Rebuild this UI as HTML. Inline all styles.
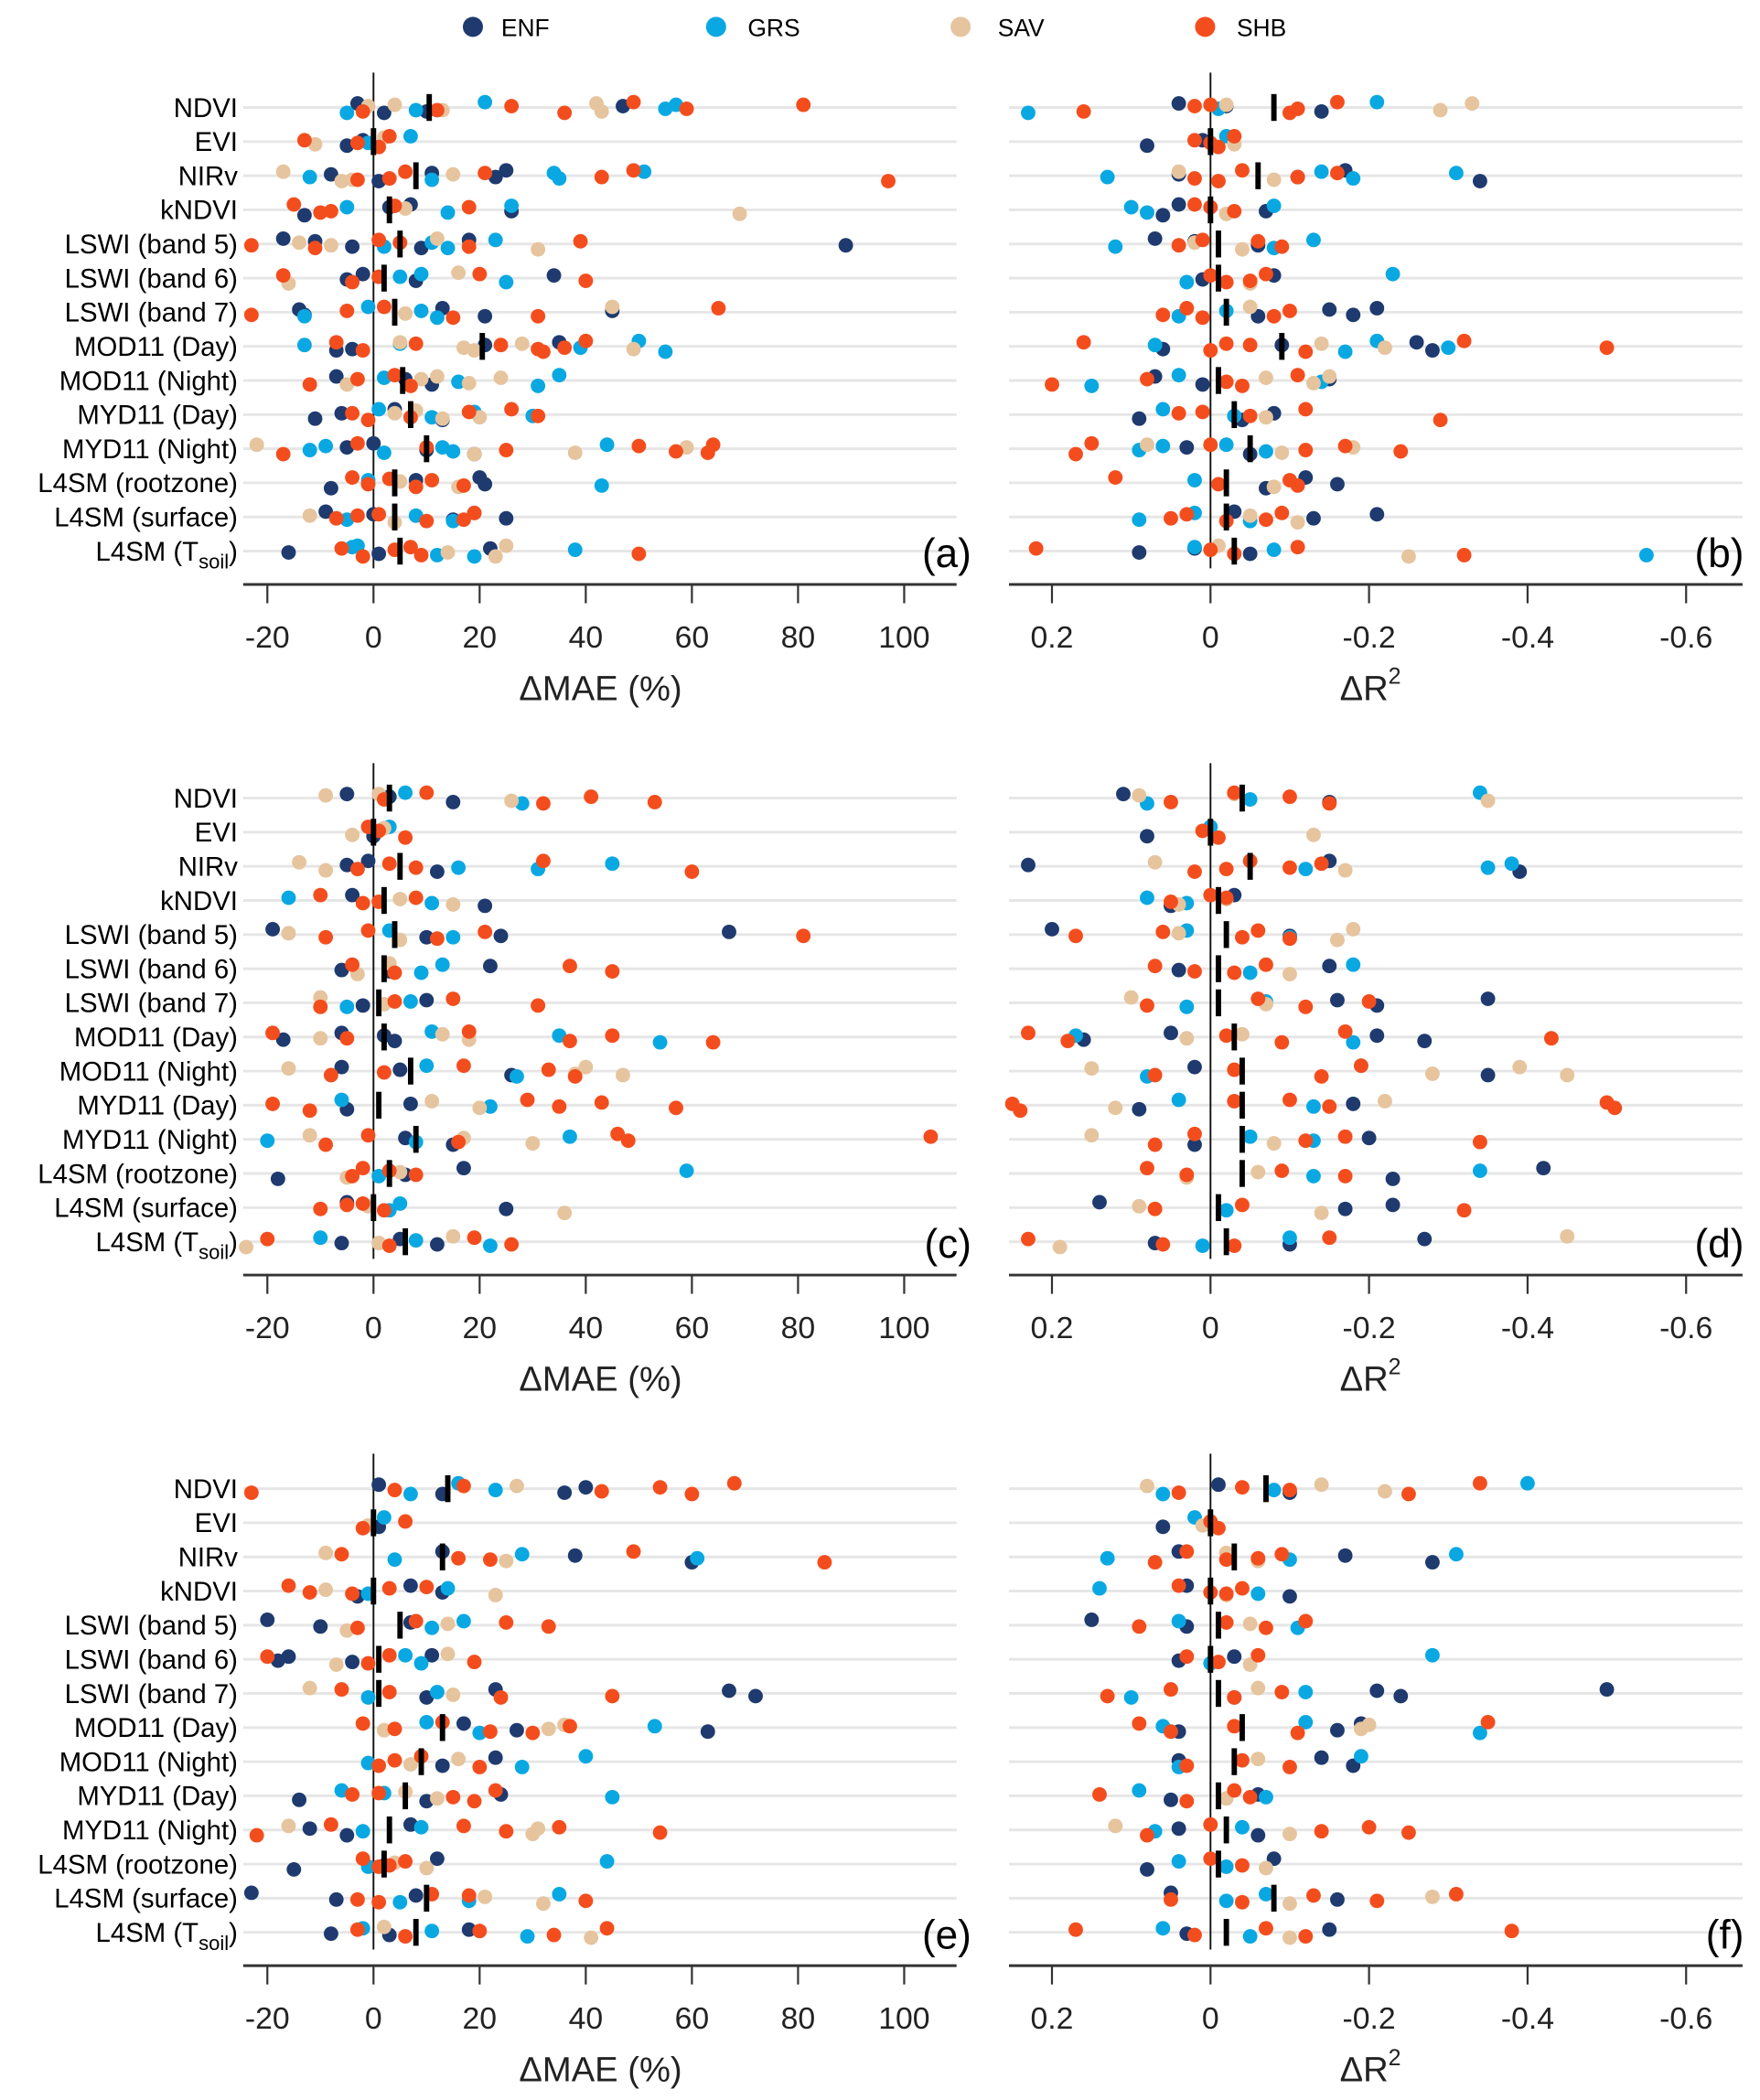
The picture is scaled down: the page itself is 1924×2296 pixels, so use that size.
<!DOCTYPE html>
<html><head><meta charset="utf-8"><style>
html,body{margin:0;padding:0;background:#fff;}
svg{display:block;font-family:"Liberation Sans",Arial,sans-serif;}
</style></head><body>
<svg id="chart" width="1924" height="2296" viewBox="0 0 1310 1563" preserveAspectRatio="none" xmlns="http://www.w3.org/2000/svg">
<g id="legend">
 <g><circle cx="352" cy="20" r="7.5" fill="#1e3a6e"/><text x="391" y="27" font-size="18" text-anchor="middle">ENF</text></g>
 <g><circle cx="533" cy="20" r="7.5" fill="#09a8e2"/><text x="576" y="27" font-size="18" text-anchor="middle">GRS</text></g>
 <g><circle cx="715" cy="20" r="7.5" fill="#e6c49e"/><text x="760" y="27" font-size="18" text-anchor="middle">SAV</text></g>
 <g><circle cx="897" cy="20" r="7.5" fill="#f44d1d"/><text x="939" y="27" font-size="18" text-anchor="middle">SHB</text></g>
</g>
</svg>
<script>
const rowLabels = ["NDVI","EVI","NIRv","kNDVI","LSWI (band 5)","LSWI (band 6)","LSWI (band 7)","MOD11 (Day)","MOD11 (Night)","MYD11 (Day)","MYD11 (Night)","L4SM (rootzone)","L4SM (surface)","L4SM (Tsoil)"];
const maeTicks = [-20,0,20,40,60,80,100];
const r2Ticks = [0.2,0,-0.2,-0.4,-0.6];
const r2TickLabels = ["0.2","0","-0.2","-0.4","-0.6"];

// Panel (a) ΔMAE
const enfA = [[-3,10,47,2],[-5,-2],[-8,1,25,23,11],[-13,7,26,3],[-17,89,-11,-4,18,9],[-5,34,8,-2],[-14,-13,13,21,45],[-4,35,-7,21],[-7,11,6],[-11,-6,13,4],[-5,19,0,10],[-8,20,21,8],[-9,25,0,15],[-16,22,1]];
const grsA = [[-5,21,55,57,8],[7,-1],[-12,34,35,51,11],[-5,14,26],[2,23,14,11],[9,25,5],[-13,9,12,-1],[-13,55,50,39,5],[31,35,16,2],[1,30,19,11],[-12,-9,15,44,2,13],[-1,43],[-5,19,15,8],[-4,12,38,19,-3]];
const savA = [[4,13,42,43,-1],[-11,2],[-17,-4,15,-6],[69,6],[-14,31,12,-8],[-16,16],[45,6],[17,28,49,5,19],[24,18,12,-5,9],[20,8,13,4],[-22,38,59,19],[16,5],[-12,4],[23,25,14]];
const shbA = [[-2,26,36,49,59,81,12],[-13,1,3,-3],[97,49,43,21,3,6,-3],[-15,-8,18,-10,4],[-23,39,18,1,-11,5],[-17,40,20,-4,1],[-23,65,31,-5,15,2],[-7,-2,24,32,40,36,8,31],[-12,-3,7,4],[-4,-1,26,31,18,7],[-17,-3,25,50,57,64,63,10],[-4,-1,11,17,3,8],[-7,1,17,19,10,-3],[-6,50,7,9,4,-2]];
const medA = [10.5,0,8,3,5,2,4,20.5,5.5,7,10,4,4,5];

// Panel (b) ΔR²
const enfB = [[0.04,-0.14,-0.02],[0.08,0.01],[0.04,-0.34,-0.17,-0.11],[0.06,0.04,-0.07],[0.07,-0.06,0.02],[0.01,-0.08],[-0.15,-0.18,-0.21,-0.06],[0.06,-0.26,-0.28,-0.09],[0.07,0.01,-0.15],[0.09,-0.08,-0.04],[0.03,-0.05],[-0.07,-0.12,-0.16],[-0.03,-0.13,-0.21],[0.09,0.02,-0.05]];
const grsB = [[0.23,-0.21,-0.01],[-0.02],[0.13,-0.31,-0.18,-0.14],[0.1,0.08,-0.08],[0.12,-0.13,-0.08],[-0.23,0.03],[0.04,-0.02],[0.07,-0.17,-0.21,-0.3],[0.15,0.04,-0.14],[0.06,-0.03],[0.09,0.06,-0.07,-0.02],[0.02],[0.09,0.02,-0.05],[0.02,-0.55,-0.08]];
const savB = [[-0.02,-0.29,-0.33],[-0.03],[0.04,-0.08],[-0.02],[0.02,-0.04],[-0.05],[-0.05],[-0.22,-0.14],[-0.07,-0.13,-0.15],[-0.07],[0.08,-0.09,-0.18],[-0.08],[-0.05,-0.11],[-0.25,-0.01]];
const shbB = [[0.16,0.02,-0.1,-0.16,-0.11,0.0],[0.02,-0.01,-0.03,0.0],[-0.01,-0.04,-0.11,-0.16,0.02],[0.02,-0.03,0.0],[0.04,-0.06,-0.09,0.01],[0.0,-0.05,-0.07,-0.02],[0.06,0.03,-0.08,-0.1,0.01],[0.16,0.0,-0.05,-0.12,-0.32,-0.5,-0.02],[0.2,0.08,-0.04,-0.11,-0.02],[0.04,-0.29,-0.12,-0.05,0.01],[0.17,0.15,-0.12,-0.17,-0.24,0.0],[0.12,-0.01,-0.1,-0.11],[0.05,0.03,-0.07,-0.09,-0.02],[0.22,-0.03,-0.11,-0.32,0.0]];
const medB = [-0.08,0,-0.06,0,-0.01,-0.01,-0.02,-0.09,-0.01,-0.03,-0.05,-0.02,-0.02,-0.03];

// Panel (c) ΔMAE
const enfC = [[-5,15,3],[0],[-5,12,-1],[21,-4],[-19,24,67,10],[-6,22,3],[10,-2],[-17,-6,4,2],[-6,26,5],[-5,7],[6,15],[-18,17,6],[-5,25],[-6,5,12]];
const grsC = [[28,6],[3],[16,45,31],[-16,11],[15,3],[13,9],[-5,7],[35,54,11],[27,10],[-6,22],[-20,37,8],[59,1],[3,5],[-10,22,8]];
const savC = [[-9,26,1],[-4,2],[-14,-9],[15,5],[-16,5],[-3,3],[-10,2],[-10,13,18],[-16,38,40,47],[20,11],[-12,30,17],[-5,5],[-1,36],[-24,15,1]];
const shbC = [[53,41,32,10,2],[1,6,-1],[60,32,8,3,-3],[-10,1,8,-2],[81,21,-9,-1,12],[37,45,-4,4],[31,15,-10,4],[-19,37,45,64,18,-5],[-8,33,38,17,2],[-19,-12,29,35,43,57],[-9,46,48,105,16,-1],[-2,8,3,-4],[-10,-5,2,-2],[-20,26,19,3]];
const medC = [3,0,5,2,4,2,1,2,7,1,8,3,0,6];

// Panel (d) ΔR²
const enfD = [[0.11,-0.15],[0.08],[0.23,-0.39,-0.15],[0.05,-0.03],[0.2,-0.1],[0.04,-0.15],[-0.16,-0.21,-0.35],[0.16,0.05,-0.27,-0.21],[0.02,-0.35],[0.09,-0.18],[-0.2,0.02],[-0.23,-0.42],[0.14,-0.17,-0.23],[0.07,-0.27,-0.1]];
const grsD = [[0.08,-0.34,-0.05],[0.0],[-0.35,-0.38,-0.12],[0.08,0.03],[-0.1,0.03],[-0.18,-0.05],[0.03,-0.07],[0.17,-0.18],[0.08,-0.19],[0.04,-0.13],[-0.13,-0.05],[-0.34,-0.13],[-0.02],[-0.1,0.01]];
const savD = [[0.09,-0.35,-0.03],[-0.13],[0.07,-0.17],[0.04,-0.02],[0.04,-0.16,-0.18],[-0.1],[0.1,-0.07],[0.03,-0.04],[0.15,-0.28,-0.39,-0.45],[0.12,-0.22],[0.15,-0.08],[0.03,-0.06],[0.09,-0.14],[0.19,-0.45]];
const shbD = [[0.05,-0.1,-0.15,-0.03],[0.01,-0.01],[0.02,-0.05,-0.1,-0.14,-0.02],[0.0,0.05,-0.02],[0.17,0.06,-0.04,-0.06,-0.1],[0.07,0.02,-0.07,-0.03],[0.08,-0.06,-0.12,-0.2],[0.23,0.18,-0.02,-0.09,-0.17,-0.43],[0.07,-0.03,-0.14,-0.19],[0.25,0.24,-0.1,-0.15,-0.5,-0.51,-0.03],[0.07,0.02,-0.12,-0.17,-0.34],[0.08,0.03,-0.09,-0.17],[0.07,-0.04,-0.32],[0.23,0.06,-0.15,-0.03]];
const medD = [-0.04,0,-0.05,-0.01,-0.02,-0.01,-0.01,-0.03,-0.04,-0.04,-0.04,-0.04,-0.01,-0.02];

// Panel (e) ΔMAE
const enfE = [[1,36,40,13],[1],[38,60,13],[-3,7,13],[-20,-10,7],[-18,-16,-4,11],[67,72,23,10],[27,17,63],[23,13],[-14,24,10],[-12,-5,7],[-15,12,2],[-23,-7,8],[-8,18,3]];
const grsE = [[7,16,23],[2],[61,28,4],[14,-1],[11,17],[6,9],[-1,12],[53,20,10],[28,40,-1],[-6,45,2],[-2,9],[44,-1],[18,35,5],[-2,29,11]];
const savE = [[27,43],[-1],[-9,25],[23,-9],[14,-5],[-7,14],[-12,15],[33,36,2],[16,7],[12,6],[-16,30,31],[10,4],[21,32],[41,2]];
const shbE = [[-23,54,60,68,4,17,43],[6,-2],[85,49,16,-6,22],[-16,-12,3,-4,10],[33,25,-3,8],[-20,19,3,-1],[45,-6,24,3],[-2,22,37,30,13,4],[1,4,20,9],[-4,19,23,15,1],[-22,-8,25,35,54,17],[-2,3,6,1],[-3,18,40,11,1],[-3,34,44,6,20]];
const medE = [14,0,13,0,5,1,1,13,9,6,3,2,10,8];

// Panel (f) ΔR²
const enfF = [[-0.01,-0.1],[0.06],[-0.17,-0.28,0.04],[-0.1,0.03],[0.15,0.03],[0.04,-0.03],[-0.21,-0.24,-0.5,-0.03],[-0.16,-0.19,0.04],[-0.14,-0.18,0.04],[0.05,-0.06],[0.04,-0.06],[0.08,-0.08],[0.05,-0.16],[0.03,-0.15]];
const grsF = [[0.06,-0.4,-0.08],[0.02],[0.13,-0.31,-0.1],[0.14,-0.06],[-0.11,0.04],[-0.28,0.0],[0.1,-0.12],[0.06,-0.34,-0.12],[0.04,-0.19],[0.09,-0.07],[0.07,-0.04],[0.04,-0.02],[-0.02,-0.07],[0.06,-0.05]];
const savF = [[0.08,-0.22,-0.14],[0.01],[-0.02,-0.06],[-0.02],[-0.05],[-0.05],[-0.06],[-0.19,-0.2],[-0.06],[-0.02],[0.12,-0.1],[-0.07],[-0.28,-0.1],[-0.1]];
const shbF = [[0.04,-0.04,-0.25,-0.34,-0.1],[0.0,-0.01],[0.07,0.03,-0.06,-0.09,-0.02],[0.04,0.0,-0.04,-0.02],[0.09,-0.02,-0.07,-0.12],[0.03,-0.01,-0.06],[0.13,0.05,-0.03,-0.09],[0.09,0.05,-0.03,-0.11,-0.35],[0.03,-0.04,-0.1],[0.14,0.03,-0.03,-0.05],[0.08,0.0,-0.14,-0.2,-0.25],[0.0,-0.04],[0.05,-0.13,-0.21,-0.31,-0.04],[0.17,0.02,-0.07,-0.12,-0.38]];
const medF = [-0.07,0,-0.03,0,-0.01,0,-0.01,-0.04,-0.03,-0.01,-0.02,-0.01,-0.08,-0.02];

const colors = {enf:"#1e3a6e", grs:"#09a8e2", sav:"#e6c49e", shb:"#f44d1d"};
const NS = "http://www.w3.org/2000/svg";
const svg = document.getElementById("chart");
function mk(tag, attrs, parent){const e=document.createElementNS(NS,tag);for(const k in attrs)e.setAttribute(k,attrs[k]);(parent||svg).appendChild(e);return e;}
const jit = [-3,3,-1,4,-4,1,-2,2];

function drawPanel(id, kind, off, series, med, letter){
  const left = kind==="mae";
  const x0 = left?181:751, x1 = left?712:1297;
  const xs = left ? (v)=>278+v*3.95 : (v)=>901-v*590;
  const rowY = (i)=>80+off+i*25.4;
  const axisY = 435+off;
  const g = mk("g",{});
  
  
  // gridlines
  rowLabels.forEach((lab,i)=>{
    const gl = mk("line",{x1:x0,x2:x1,y1:rowY(i),y2:rowY(i),stroke:"#e6e6e6","stroke-width":2},g);
    
    
  });
  // zero line
  const zl = mk("line",{x1:xs(0),x2:xs(0),y1:54+off,y2:423+off,stroke:"#111","stroke-width":1.3},g);
  
  
  // row labels
  if(left){
    rowLabels.forEach((lab,i)=>{
      const t = mk("text",{x:177,y:rowY(i)+7,"font-size":20,"text-anchor":"end",fill:"#000"},g);
      if(lab==="L4SM (Tsoil)"){
        t.textContent="L4SM (T";
        const s=mk("tspan",{"font-size":15,dy:6},t); s.textContent="soil";
        const p=mk("tspan",{dy:-6},t); p.textContent=")";
      } else t.textContent=lab;
      
      
    });
  }
  // points
  const keys=["enf","grs","sav","shb"];
  keys.forEach((k,ki)=>{
    series[ki].forEach((vals,i)=>{
      vals.forEach((v,j)=>{
        const c = mk("circle",{cx:xs(v),cy:rowY(i)+jit[(j+ki*3+i)%8],r:5.4,fill:colors[k]},g);
        
        
      });
    });
  });
  // medians
  med.forEach((m,i)=>{
    const r = mk("rect",{x:xs(m)-2,y:rowY(i)-10,width:4,height:20,fill:"#000"},g);
    
    
  });
  // axis
  const ax = mk("line",{x1:x0,x2:x1,y1:axisY,y2:axisY,stroke:"#333","stroke-width":2},g);
  
  
  const ticks = left?maeTicks:r2Ticks;
  ticks.forEach((tv,ti)=>{
    const tl = mk("line",{x1:xs(tv),x2:xs(tv),y1:axisY,y2:axisY+14,stroke:"#333","stroke-width":1.5},g);
    
    
    const tt = mk("text",{x:xs(tv),y:axisY+47,"font-size":23,"text-anchor":"middle",fill:"#222"},g);
    tt.textContent = left?String(tv):r2TickLabels[ti];
    
    
  });
  const title = mk("text",{x:left?447:1020,y:axisY+86,"font-size":26,"text-anchor":"middle",fill:"#222"},g);
  if(left){ title.textContent="\u0394MAE (%)"; }
  else { title.textContent="\u0394R"; const sp=mk("tspan",{"font-size":17,dy:-12},title); sp.textContent="2"; }
  
  
  const pl = mk("text",{x:left?723:1298,y:rowY(13)+12,"font-size":30,"text-anchor":"end",fill:"#000"},g);
  pl.textContent = "("+letter+")";
  
  
}
drawPanel("a","mae",0,[enfA,grsA,savA,shbA],medA,"a");
drawPanel("b","r2",0,[enfB,grsB,savB,shbB],medB,"b");
drawPanel("c","mae",514,[enfC,grsC,savC,shbC],medC,"c");
drawPanel("d","r2",514,[enfD,grsD,savD,shbD],medD,"d");
drawPanel("e","mae",1028,[enfE,grsE,savE,shbE],medE,"e");
drawPanel("f","r2",1028,[enfF,grsF,savF,shbF],medF,"f");
</script>
</body></html>
